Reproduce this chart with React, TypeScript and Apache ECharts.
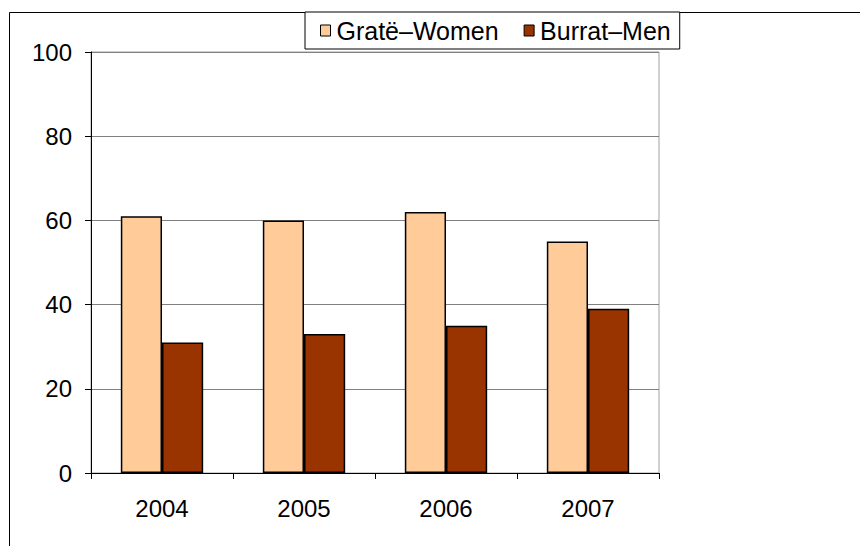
import React, { useEffect, useRef } from "react";
import * as echarts from "echarts";

const categories = ["2004", "2005", "2006", "2007"];
const women = [61, 60, 62, 55];
const men = [31, 33, 35, 39];
const seriesNames = ["Gratë–Women", "Burrat–Men"];

export default function App() {
  const ref = useRef<HTMLDivElement>(null);
  useEffect(() => {
    document.body.style.margin = "0";
    const chart = echarts.init(ref.current!, null, { renderer: "svg" });
    chart.setOption({
      animation: false,
      backgroundColor: "#ffffff",
      textStyle: { fontFamily: "Liberation Sans, Arial, sans-serif" },
      graphic: [
        {
          type: "rect",
          shape: { x: 9.5, y: 12.5, width: 900, height: 600 },
          style: { fill: "none", stroke: "#000", lineWidth: 1 },
          silent: true,
          z: -10,
        },
      ],
      legend: {
        left: 305,
        top: 12,
        padding: [6, 9, 6, 15],
        itemGap: 25,
        itemWidth: 10,
        itemHeight: 11,
        icon: "rect",
        borderColor: "#000",
        borderWidth: 1,
        backgroundColor: "#fff",
        itemStyle: { borderColor: "#000", borderWidth: 1 },
        textStyle: { fontSize: 25, color: "#000", padding: [0, 0, 0, 1] },
        data: seriesNames,
      },
      grid: {
        left: 91,
        top: 52,
        width: 568,
        height: 421,
        show: true,
        borderColor: "#a0a0a0",
        borderWidth: 1,
        containLabel: false,
      },
      xAxis: {
        type: "category",
        data: categories,
        axisLine: { lineStyle: { color: "#000", width: 1 } },
        axisTick: { show: true, length: 6, lineStyle: { color: "#000" } },
        axisLabel: { fontSize: 24, color: "#000", margin: 23 },
      },
      yAxis: {
        type: "value",
        min: 0,
        max: 100,
        interval: 20,
        axisLine: { show: true, lineStyle: { color: "#000", width: 1 } },
        axisTick: { show: true, length: 6, lineStyle: { color: "#000" } },
        axisLabel: { fontSize: 24, color: "#000", margin: 19 },
        splitLine: { lineStyle: { color: "#808080", width: 1 } },
      },
      series: [
        {
          name: seriesNames[0],
          type: "bar",
          data: women,
          barGap: "0%",
          barCategoryGap: "42%",
          itemStyle: { color: "#FFCC99", borderColor: "#000", borderWidth: 1.5 },
        },
        {
          name: seriesNames[1],
          type: "bar",
          data: men,
          barGap: "0%",
          barCategoryGap: "42%",
          itemStyle: { color: "#993300", borderColor: "#000", borderWidth: 1.5 },
        },
      ],
    });
    return () => chart.dispose();
  }, []);
  return <div ref={ref} style={{ width: 860, height: 546 }} />;
}
